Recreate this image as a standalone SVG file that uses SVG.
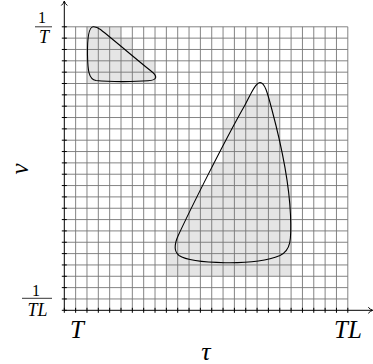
<svg xmlns="http://www.w3.org/2000/svg" width="373" height="364" viewBox="0 0 373 364">
<style>
.grid{fill:none;stroke:#767676;stroke-width:0.9}
.shade{fill:#e5e5e5;stroke:none}
.ax{fill:none;stroke:#000;stroke-width:1}
.curve{fill:none;stroke:#000;stroke-width:1.1}
.lbl{font-family:"Liberation Serif",serif;fill:#000}
.it{font-style:italic}
</style>
<rect width="373" height="364" fill="#fff"/>
<g id="shaded-regions">
<polygon class="shade" points="86.98,26.8 121,26.8 121,38.14 132.34,38.14 132.34,49.48 143.68,49.48 143.68,60.82 155.02,60.82 155.02,83.5 86.98,83.5"/>
<polygon class="shade" points="234.4,94.84 279.76,94.84 279.76,140.2 291.1,140.2 291.1,276.28 166.36,276.28 166.36,230.92 177.7,230.92 177.7,208.24 189.04,208.24 189.04,185.56 211.72,185.56 211.72,162.88 223.06,162.88 223.06,117.52 234.4,117.52"/>
</g>
<g id="grid">
<path class="grid" d="M75.64 26.8V310.3M86.98 26.8V310.3M98.32 26.8V310.3M109.66 26.8V310.3M121 26.8V310.3M132.34 26.8V310.3M143.68 26.8V310.3M155.02 26.8V310.3M166.36 26.8V310.3M177.7 26.8V310.3M189.04 26.8V310.3M200.38 26.8V310.3M211.72 26.8V310.3M223.06 26.8V310.3M234.4 26.8V310.3M245.74 26.8V310.3M257.08 26.8V310.3M268.42 26.8V310.3M279.76 26.8V310.3M291.1 26.8V310.3M302.44 26.8V310.3M313.78 26.8V310.3M325.12 26.8V310.3M336.46 26.8V310.3M347.8 26.8V310.3
M64.3 26.8H347.8M64.3 38.14H347.8M64.3 49.48H347.8M64.3 60.82H347.8M64.3 72.16H347.8M64.3 83.5H347.8M64.3 94.84H347.8M64.3 106.18H347.8M64.3 117.52H347.8M64.3 128.86H347.8M64.3 140.2H347.8M64.3 151.54H347.8M64.3 162.88H347.8M64.3 174.22H347.8M64.3 185.56H347.8M64.3 196.9H347.8M64.3 208.24H347.8M64.3 219.58H347.8M64.3 230.92H347.8M64.3 242.26H347.8M64.3 253.6H347.8M64.3 264.94H347.8M64.3 276.28H347.8M64.3 287.62H347.8M64.3 298.96H347.8"/>
</g>
<g id="axes">
<path class="ax" d="M64.3 310.3V1.5M64.3 310.3H372"/>
<path class="ax" d="M61.3 5.5Q63.6 3.6 64.3 1M67.3 5.5Q65 3.6 64.3 1"/>
<path class="ax" d="M368.3 307.3Q370.2 309.6 372.8 310.3M368.3 313.3Q370.2 311 372.8 310.3"/>
<path class="ax" d="M64.3 307.8v5M75.64 307.8v5M86.98 307.8v5M98.32 307.8v5M109.66 307.8v5M121 307.8v5M132.34 307.8v5M143.68 307.8v5M155.02 307.8v5M166.36 307.8v5M177.7 307.8v5M189.04 307.8v5M200.38 307.8v5M211.72 307.8v5M223.06 307.8v5M234.4 307.8v5M245.74 307.8v5M257.08 307.8v5M268.42 307.8v5M279.76 307.8v5M291.1 307.8v5M302.44 307.8v5M313.78 307.8v5M325.12 307.8v5M336.46 307.8v5M347.8 307.8v5
M61.8 26.8h5M61.8 38.14h5M61.8 49.48h5M61.8 60.82h5M61.8 72.16h5M61.8 83.5h5M61.8 94.84h5M61.8 106.18h5M61.8 117.52h5M61.8 128.86h5M61.8 140.2h5M61.8 151.54h5M61.8 162.88h5M61.8 174.22h5M61.8 185.56h5M61.8 196.9h5M61.8 208.24h5M61.8 219.58h5M61.8 230.92h5M61.8 242.26h5M61.8 253.6h5M61.8 264.94h5M61.8 276.28h5M61.8 287.62h5M61.8 298.96h5M61.8 310.3h5"/>
</g>
<g id="region-small">
<path class="curve" d="M93 26.8C88.5 27.5 87.3 40 87.5 55C87.8 70 88.5 79 96 80.5C110 82 135 81.8 148 80.8C158 80 157.5 76 151 71C136 59 115 41 100.5 29.5C97.5 27.3 95.2 26.5 93 26.8Z"/>
</g>
<g id="region-large">
<path class="curve" d="M260 82.5C265 82.3 268 95 272 110C280 140 289 180 290.5 215C291.5 240 291 250 280 255.5C265 261.5 245 263 225 262.7C200 262.2 185 259.5 179 255.5C174 251.5 174 245 178 236C190 210 225 140 245 105C250 96 255 82.8 260 82.5Z"/>
</g>
<g id="labels">
<text class="lbl" x="42" y="23" font-size="16" text-anchor="middle">1</text>
<path d="M35 26.8H52" stroke="#000" stroke-width="0.8"/>
<text class="lbl it" x="44" y="43" font-size="18" text-anchor="middle">T</text>
<text class="lbl" x="36" y="295.5" font-size="16" text-anchor="middle">1</text>
<path d="M22 298.3H52" stroke="#000" stroke-width="0.8"/>
<text class="lbl it" x="37.5" y="315.5" font-size="18" text-anchor="middle">TL</text>
<text class="lbl it" x="77" y="337.5" font-size="25" text-anchor="middle">T</text>
<text class="lbl it" x="348" y="337.5" font-size="25" text-anchor="middle">TL</text>
<text class="lbl it" x="206" y="359.5" font-size="26" text-anchor="middle">τ</text>
<text class="lbl it" font-size="25" text-anchor="middle" transform="translate(27.5,169) rotate(-90)">ν</text>
</g>
</svg>
